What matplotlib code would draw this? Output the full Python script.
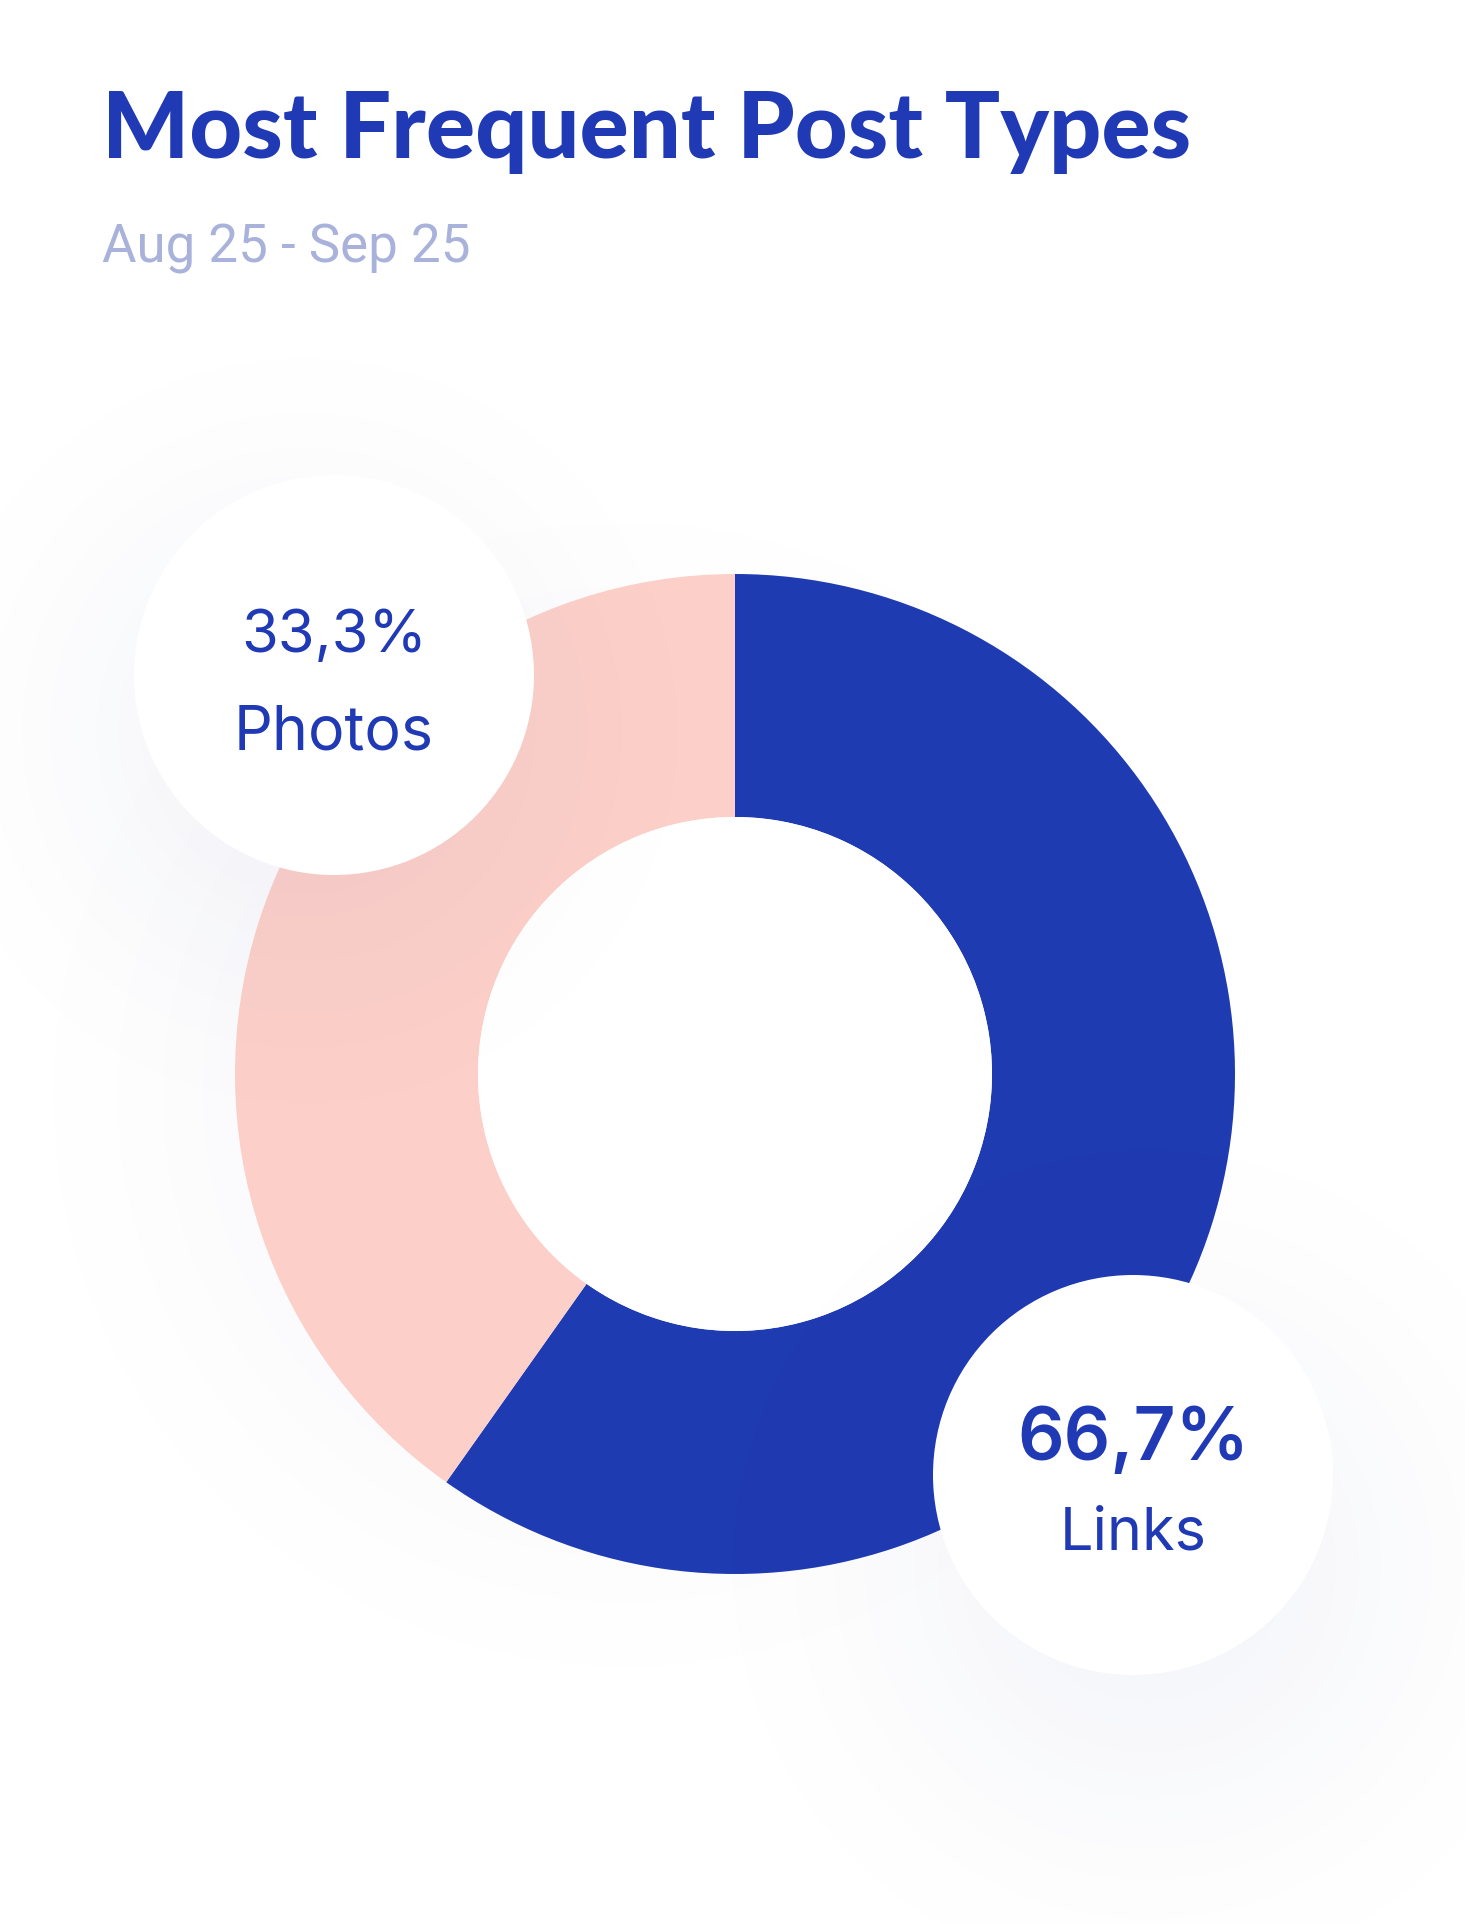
import matplotlib
matplotlib.use("Agg")
import matplotlib.pyplot as plt
import numpy as np
from matplotlib.patches import Circle

# ---------------- data ----------------
title = "Most Frequent Post Types"
subtitle = "Aug 25 - Sep 25"
categories = ["Links", "Photos"]
pct_labels = ["66,7%", "33,3%"]
# arc shares as drawn in the reference
arc_shares = [59.8, 40.2]

# ---------------- style ----------------
W, H = 1465, 1925
BLUE = "#1F3BB2"
PINK = "#FCCFC8"
TEXT_BLUE = "#2039B5"
SUB = "#A9B2DA"
SHADOW_RGB = (42 / 255, 58 / 255, 142 / 255)

fig = plt.figure(figsize=(W / 100, H / 100), dpi=100)
fig.patch.set_facecolor("white")
ax = fig.add_axes([0, 0, 1, 1])


def Y(y):
    return H - y


cx, cy = 735, 1074
R_out, R_in = 500, 257

# pixel grid (image rows top->bottom)
yy, xx = np.mgrid[0:H, 0:W].astype(float)


def soft_disc(x, y, r, s):
    d = np.hypot(xx - x, yy - y)
    return 1.0 / (1.0 + np.exp((d - r) / s))


def shadow_image(alpha, z):
    img = np.zeros((H, W, 4))
    img[..., 0], img[..., 1], img[..., 2] = SHADOW_RGB
    img[..., 3] = np.clip(alpha, 0, 1)
    ax.imshow(img, extent=(0, W, 0, H), origin="upper", zorder=z,
              interpolation="bilinear", aspect="auto")


# donut shadow (beneath the ring, cast towards lower-left)
shadow_image(0.03 * soft_disc(cx - 110, cy + 20, R_out - 70, 75), 1)

ax.pie(arc_shares, startangle=90, counterclock=False, center=(cx, Y(cy)),
       radius=R_out, colors=[BLUE, PINK],
       wedgeprops=dict(width=R_out - R_in, edgecolor="none", linewidth=0))
for p in ax.patches:
    if hasattr(p, "theta1"):
        p.set_zorder(2)

# inner white
ax.add_patch(Circle((cx, Y(cy)), R_in, facecolor="white", edgecolor="none", zorder=2.5))

bubbles = {"Photos": (334, 675), "Links": (1133, 1475)}
br = 200
# bubble shadows
bs = 0.05 * soft_disc(334 - 30, 675 + 55, br, 70) + 0.055 * soft_disc(1133 + 15, 1475 + 90, br + 10, 80)
shadow_image(bs, 3)
for name, (bx, by) in bubbles.items():
    ax.add_patch(Circle((bx, Y(by)), br, facecolor="white", edgecolor="none", zorder=4))

ax.set_xlim(0, W)
ax.set_ylim(0, H)
ax.set_axis_off()

renderer = fig.canvas.get_renderer()


def fit(t, target_w):
    for _ in range(3):
        bb = t.get_window_extent(renderer)
        t.set_fontsize(t.get_fontsize() * target_w / bb.width)


t = ax.text(102, Y(158), title, fontsize=60, fontweight="black", family="Lato",
            color=TEXT_BLUE, ha="left", va="baseline", zorder=6)
fit(t, 1089)
t = ax.text(102, Y(262), subtitle, fontsize=30, family="Roboto",
            color=SUB, ha="left", va="baseline", zorder=6)
fit(t, 368)

# bubble labels
lx, ly = bubbles["Photos"]
t = ax.text(lx, Y(652), pct_labels[1], fontsize=40, family="Inter",
            color=TEXT_BLUE, ha="center", va="baseline", zorder=6)
fit(t, 186)
t = ax.text(lx, Y(750), categories[1], fontsize=40, family="Inter",
            color=TEXT_BLUE, ha="center", va="baseline", zorder=6)
fit(t, 200)

lx, ly = bubbles["Links"]
t = ax.text(lx, Y(1460), pct_labels[0], fontsize=40, family="Inter", fontweight="semibold",
            color=TEXT_BLUE, ha="center", va="baseline", zorder=6)
fit(t, 232)
t = ax.text(lx, Y(1550), categories[0], fontsize=40, family="Inter",
            color=TEXT_BLUE, ha="center", va="baseline", zorder=6)
fit(t, 147)

fig.savefig("out.png", dpi=100, facecolor="white")
